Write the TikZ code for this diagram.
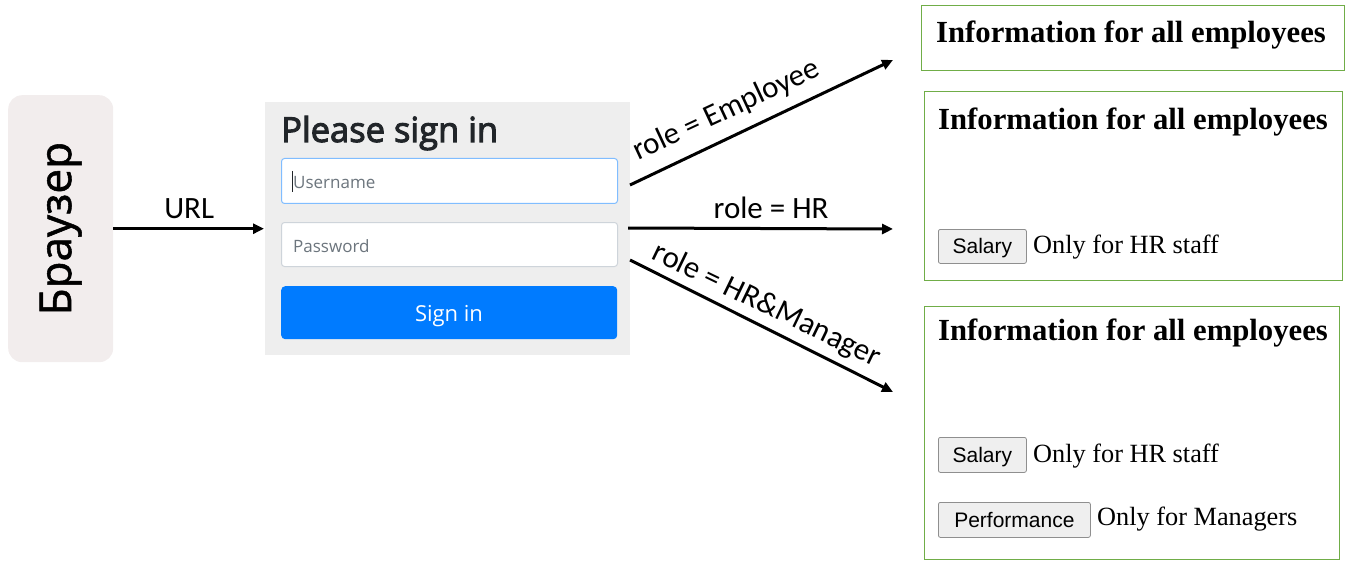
\documentclass[tikz,border=0pt]{standalone}
\usepackage{fontspec}
\setmainfont{Liberation Serif}
\newfontfamily\carl{Carlito}
\newfontfamily\osans{Open Sans}
\newfontfamily\osansb[FakeBold=3]{Open Sans}
\newfontfamily\osansm[FakeBold=1.2]{Open Sans}
\newfontfamily\lsans{Liberation Sans}
\usetikzlibrary{arrows.meta}
\definecolor{gborder}{HTML}{70AD47}
\definecolor{browserfill}{HTML}{F2EDED}
\definecolor{panelgray}{HTML}{EEEEEE}
\definecolor{titledark}{HTML}{212529}
\definecolor{placeholder}{HTML}{6C757D}
\definecolor{focusblue}{HTML}{80BDFF}
\definecolor{fieldgray}{HTML}{CED4DA}
\definecolor{btnblue}{HTML}{007BFF}
\definecolor{btnfill}{HTML}{EFEFEF}
\definecolor{btnline}{HTML}{8F8F8F}
\newcommand\myfs[1]{\fontsize{#1}{#1}\selectfont}
\tikzset{
  lbl/.style={font=\carl\myfs{31}, inner sep=0pt},
  arr/.style={line width=3pt, -{Triangle[length=11pt,width=10pt]}},
  gbox/.style={draw=gborder, line width=1.2pt, anchor=north west, inner sep=0pt},
  btn/.style={draw=btnline, fill=btnfill, rounded corners=2pt, line width=0.8pt, anchor=north west, inner sep=0pt, font=\lsans\myfs{21}, text height=15pt, text depth=0pt},
  plain/.style={anchor=base west, inner sep=0pt, font=\myfs{26.3}},
  btitle/.style={anchor=base west, inner sep=0pt, font=\bfseries\myfs{30.7}},
  field/.style={fill=white, line width=1pt, rounded corners=3pt, anchor=north west, minimum width=336pt, inner sep=0pt},
  ph/.style={anchor=base west, inner sep=0pt, font=\osans\myfs{17}, text=placeholder},
  headtxt/.style={anchor=base west, inner sep=0pt, font=\osansb\myfs{34.5}, text=titledark}
}
\begin{document}
\begin{tikzpicture}[x=1pt,y=-1pt]
\useasboundingbox (0,0) rectangle (1346,564);
% browser
\node[fill=browserfill, rounded corners=14pt, minimum width=105pt, minimum height=267pt, anchor=north west, inner sep=0pt] (browser) at (8,95) {};
\node[rotate=90, font=\osansm\myfs{44}, inner sep=0pt] (browserlbl) at (browser.center) {Браузер};
% login panel
\node[fill=panelgray, minimum width=365pt, minimum height=253pt, anchor=north west, inner sep=0pt] (login) at (265,102) {};
\node[headtxt] (ptitle) at (281,142) {Please sign in};
\node[field, draw=focusblue, minimum height=45pt] (user) at (281,158) {};
\node[ph] (userph) at (293,189) {Username};
\coordinate (caretT) at (292,171);
\coordinate (caretB) at (292,192);
\draw[titledark, line width=0.8pt] (caretT) -- (caretB);
\node[field, draw=fieldgray, minimum height=44pt] (pass) at (281,222) {};
\node[ph] (passph) at (293,252) {Password};
\node[fill=btnblue, rounded corners=4pt, minimum width=336pt, minimum height=53pt, anchor=north west, inner sep=0pt] (signbtn) at (281,286) {};
\node[anchor=base, inner sep=0pt, font=\osans\myfs{22}, text=white] (signtxt) at (449,321) {Sign in};
% URL arrow
\draw[arr, shorten >=1pt] (browser.east) -- node[lbl, anchor=base, yshift=10pt] (urllbl) {URL} (login.west);
% role arrows
\coordinate (eS) at (630,185);
\coordinate (eE) at (893,60);
\coordinate (hS) at (628,228);
\coordinate (hE) at (893,229);
\coordinate (mS) at (630,260);
\coordinate (mE) at (893,392);
\draw[arr] (eS) -- (eE);
\node[lbl, rotate=25, anchor=base] (elbl) at (730,118) {role = Employee};
\draw[arr] (hS) -- node[lbl, pos=0.54, anchor=base, yshift=10pt] (hlbl) {role = HR} (hE);
\draw[arr] (mS) -- (mE);
\node[lbl, rotate=-25.8, anchor=base] (mlbl) at (763,313) {role = HR\&Manager};
% box 1
\node[gbox, minimum width=423pt, minimum height=65pt] (box1) at (921,5) {};
\node[btitle] (t1) at (936,43) {Information for all employees};
% box 2
\node[gbox, minimum width=418pt, minimum height=189pt] (box2) at (924,91) {};
\node[btitle] (t2) at (938,130) {Information for all employees};
\node[btn, minimum width=88pt, minimum height=34pt] (sal2) at (938,229) {Salary};
\node[plain] (o2) at (1033,253) {Only for HR staff};
% box 3
\node[gbox, minimum width=415pt, minimum height=253pt] (box3) at (924,306) {};
\node[btitle] (t3) at (938,340) {Information for all employees};
\node[btn, minimum width=88pt, minimum height=35pt] (sal3) at (938,437) {Salary};
\node[plain] (o3) at (1033,462) {Only for HR staff};
\node[btn, minimum width=152pt, minimum height=35pt] (perf3) at (938,502) {Performance};
\node[plain] (o4) at (1097,525) {Only for Managers};
\end{tikzpicture}
\end{document}
